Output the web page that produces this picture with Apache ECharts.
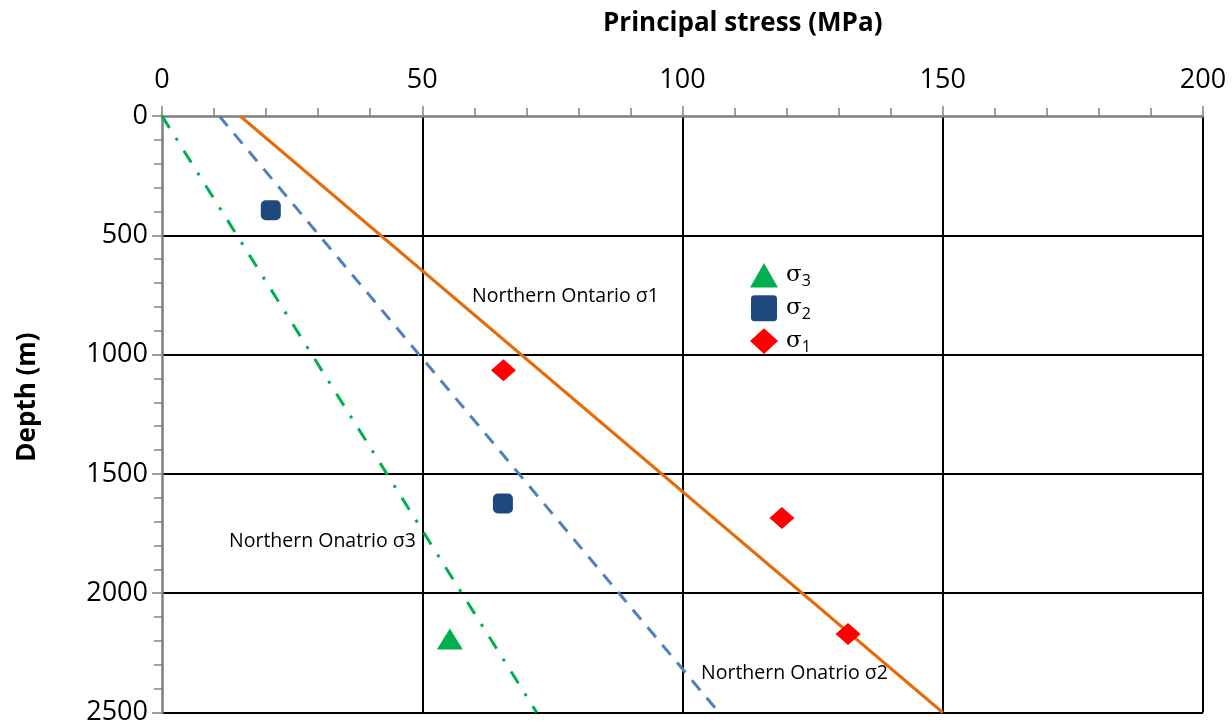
<!DOCTYPE html>
<html>
<head>
<meta charset="utf-8">
<script src="https://cdn.jsdelivr.net/npm/echarts@6/dist/echarts.min.js"></script>
<style>
html,body{margin:0;padding:0;background:#fff;}
#chart{width:1232px;height:726px;}
</style>
</head>
<body>
<div id="chart"></div>
<script>
// Reference trend lines: [stress MPa, depth m]
const sigma1Line = [[15, 0], [150, 2500]];
const sigma2Line = [[11, 0], [107, 2500]];
const sigma3Line = [[0, 0], [72, 2500]];
// Measured points: [stress MPa, depth m]
const sigma1Points = [[65.6, 1066], [119.1, 1685], [131.8, 2171]];
const sigma2Points = [[20.9, 395], [65.5, 1624]];
const sigma3Points = [[55.3, 2192]];
const legendNames = ['σ3', 'σ2', 'σ1'];
const xTicks = { min: 0, max: 200, interval: 50 };
const yTicks = { min: 0, max: 2500, interval: 500 };

const FONT = 'Open Sans';
const chart = echarts.init(document.getElementById('chart'));
const subs = { 'σ3': '3', 'σ2': '2', 'σ1': '1' };
const icons = {
  'σ3': 'path://M12,0L24,21L0,21Z',
  'σ2': 'path://M3,0L19,0Q22,0 22,3L22,19Q22,22 19,22L3,22Q0,22 0,19L0,3Q0,0 3,0Z',
  'σ1': 'path://M12,0L24,11L12,22L0,11Z'
};

chart.setOption({
  animation: false,
  backgroundColor: '#ffffff',
  title: {
    text: 'Principal stress (MPa)', left: 598, top: 6,
    textStyle: { fontFamily: FONT, fontWeight: 'bold', fontSize: 26, color: '#000' }
  },
  grid: { left: 162, right: 29, top: 116, bottom: 9, containLabel: false },
  xAxis: {
    type: 'value', position: 'top',
    min: xTicks.min, max: xTicks.max, interval: xTicks.interval,
    axisLine: { show: true, onZero: false, lineStyle: { color: '#808080', width: 2.5 } },
    axisTick: { show: true, inside: false, length: 10, lineStyle: { color: '#808080', width: 1.5 } },
    minorTick: { show: true, splitNumber: 5, length: 8, lineStyle: { color: '#808080', width: 1.5 } },
    axisLabel: { fontFamily: FONT, fontSize: 27, color: '#000', margin: 22 },
    splitLine: { show: true, showMinLine: false, lineStyle: { color: '#000', width: 2 } }
  },
  yAxis: {
    type: 'value', inverse: true,
    min: yTicks.min, max: yTicks.max, interval: yTicks.interval,
    axisLine: { show: true, onZero: false, lineStyle: { color: '#808080', width: 2.5 } },
    axisTick: { show: true, inside: false, length: 10, lineStyle: { color: '#808080', width: 1.5 } },
    minorTick: { show: true, splitNumber: 5, length: 8, lineStyle: { color: '#808080', width: 1.5 } },
    axisLabel: { fontFamily: FONT, fontSize: 27, color: '#000', margin: 14, formatter: v => String(v) },
    splitLine: { show: true, showMinLine: false, lineStyle: { color: '#000', width: 2 } }
  },
  legend: {
    data: legendNames.map(n => ({ name: n, icon: icons[n] })),
    orient: 'vertical', left: 745, top: 258,
    itemGap: 6, itemWidth: 28, itemHeight: 26,
    formatter: n => '{s|σ}{b|' + subs[n] + '}',
    textStyle: {
      color: '#000',
      rich: {
        s: { fontFamily: 'DejaVu Serif', fontSize: 23, lineHeight: 27, color: '#000', padding: [0, 0, 0, 3] },
        b: { fontFamily: FONT, fontSize: 16, color: '#000', padding: [12, 0, 0, 0] }
      }
    }
  },
  series: [
    { type: 'line', name: 'NO σ3', data: sigma3Line, symbol: 'none', z: 3,
      lineStyle: { color: '#00B050', width: 3, type: [14, 12, 3, 12] } },
    { type: 'line', name: 'NO σ2', data: sigma2Line, symbol: 'none', z: 3,
      lineStyle: { color: '#4F81BD', width: 3, type: [13, 10] } },
    { type: 'line', name: 'NO σ1', data: sigma1Line, symbol: 'none', z: 3,
      lineStyle: { color: '#E46C0A', width: 3 } },
    { type: 'scatter', name: 'σ3', data: sigma3Points, symbol: 'triangle', symbolSize: [26, 21], z: 5,
      itemStyle: { color: '#00B050', opacity: 1 } },
    { type: 'scatter', name: 'σ2', data: sigma2Points, symbol: 'roundRect', symbolSize: 20, z: 5,
      itemStyle: { color: '#1F497D', opacity: 1 } },
    { type: 'scatter', name: 'σ1', data: sigma1Points, symbol: 'diamond', symbolSize: [25, 22], z: 5,
      itemStyle: { color: '#FF0000', opacity: 1 } }
  ],
  graphic: [
    { type: 'text', x: 28, y: 397, rotation: Math.PI / 2, z: 10,
      style: { text: 'Depth (m)', fontFamily: FONT, fontWeight: 'bold', fontSize: 26, fill: '#000',
               align: 'center', verticalAlign: 'middle' } },
    { type: 'text', left: 472, top: 286, z: 10,
      style: { text: 'Northern Ontario σ1', fontFamily: FONT, fontSize: 19.5, fill: '#000' } },
    { type: 'text', left: 229, top: 531, z: 10,
      style: { text: 'Northern Onatrio σ3', fontFamily: FONT, fontSize: 19.5, fill: '#000' } },
    { type: 'text', left: 701, top: 663, z: 10,
      style: { text: 'Northern Onatrio σ2', fontFamily: FONT, fontSize: 19.5, fill: '#000' } }
  ]
});
</script>
</body>
</html>
